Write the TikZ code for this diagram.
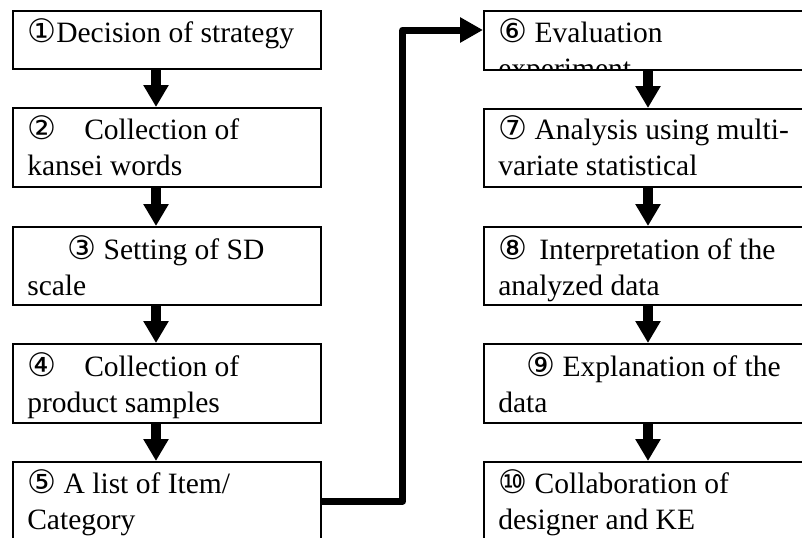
\documentclass[tikz,border=0pt]{standalone}
\usepackage{fontspec}
\setmainfont{Liberation Serif}
\newfontfamily\circfont{DejaVu Sans}
\usetikzlibrary{arrows.meta}
\newcommand{\cnum}[1]{{\circfont\fontsize{23pt}{25pt}\selectfont #1}}

\begin{document}
\begin{tikzpicture}[
	box/.style={draw, line width=1.2pt, anchor=north west, inner sep=0pt, minimum width=7.7cm},
	rbox/.style={box, minimum width=9cm},
	txt/.style={anchor=base west, align=left, inner sep=0pt, font=\fontsize{21pt}{25pt}\selectfont},
	down/.style={line width=0.25cm, -{Triangle[width=0.6cm,length=0.55cm]}},
	link/.style={line width=0.175cm, line join=round, -{Triangle[width=0.6cm,length=0.575cm]}}
	]
	\clip (0,0) rectangle (20.05,-13.45);
	
	\node[box, minimum height=1.45cm] (b1) at (0.3,-0.25) {};
	\node[box, minimum height=1.975cm] (b2) at (0.3,-2.675) {};
	\node[box, minimum height=1.95cm] (b3) at (0.3,-5.65) {};
	\node[box, minimum height=1.975cm] (b4) at (0.3,-8.575) {};
	\node[box, minimum height=2.5cm] (b5) at (0.3,-11.525) {};
	
	\node[rbox, minimum height=1.475cm] (b6) at (12.075,-0.25) {};
	\node[rbox, minimum height=1.95cm] (b7) at (12.075,-2.7) {};
	\node[rbox, minimum height=1.95cm] (b8) at (12.075,-5.65) {};
	\node[rbox, minimum height=1.975cm] (b9) at (12.075,-8.575) {};
	\node[rbox, minimum height=2.5cm] (b10) at (12.075,-11.525) {};
	
	\node[txt] (t1) at ([shift={(0.375,-0.8)}]b1.north west) {\cnum{①}Decision of strategy};
	\node[txt] (t2) at ([shift={(0.375,-1.7)}]b2.north west) {\cnum{②}\hspace*{0.7cm}Collection of\\kansei words};
	\node[txt] (t3) at ([shift={(0.375,-1.725)}]b3.north west) {\hspace*{1.0cm}\cnum{③} Setting of SD\\scale};
	\node[txt] (t4) at ([shift={(0.375,-1.725)}]b4.north west) {\cnum{④}\hspace*{0.7cm}Collection of\\product samples};
	\node[txt] (t5) at ([shift={(0.375,-1.7)}]b5.north west) {\cnum{⑤} A list of Item/\\Category};
	
	\begin{scope}
		\clip (b6.north west) rectangle (b6.south east);
		\node[txt] (t6) at ([shift={(0.375,-1.7)}]b6.north west) {\cnum{⑥} Evaluation\\experiment};
	\end{scope}
	\node[txt] (t7) at ([shift={(0.375,-1.675)}]b7.north west) {\cnum{⑦} Analysis using multi-\\variate statistical};
	\node[txt] (t8) at ([shift={(0.375,-1.725)}]b8.north west) {\cnum{⑧}\hspace*{0.3cm}Interpretation of the\\analyzed data};
	\node[txt] (t9) at ([shift={(0.375,-1.725)}]b9.north west) {\hspace*{0.7cm}\cnum{⑨} Explanation of the\\data};
	\node[txt] (t10) at ([shift={(0.375,-1.7)}]b10.north west) {\cnum{⑩} Collaboration of\\designer and KE};
	
	\draw[down] ([xshift=3.6cm]b1.south west) -- ([xshift=3.6cm]b2.north west);
	\draw[down] ([xshift=3.6cm]b2.south west) -- ([xshift=3.6cm]b3.north west);
	\draw[down] ([xshift=3.6cm]b3.south west) -- ([xshift=3.6cm]b4.north west);
	\draw[down] ([xshift=3.6cm]b4.south west) -- ([xshift=3.6cm]b5.north west);
	
	\draw[down] ([xshift=4.125cm]b6.south west) -- ([xshift=4.125cm]b7.north west);
	\draw[down] ([xshift=4.125cm]b7.south west) -- ([xshift=4.125cm]b8.north west);
	\draw[down] ([xshift=4.125cm]b8.south west) -- ([xshift=4.125cm]b9.north west);
	\draw[down] ([xshift=4.125cm]b9.south west) -- ([xshift=4.125cm]b10.north west);
	
	\draw[link] ([yshift=-1cm]b5.north east) -- ++(2.025,0) |- ([yshift=-0.5cm]b6.north west);
	
\end{tikzpicture}
\end{document}
